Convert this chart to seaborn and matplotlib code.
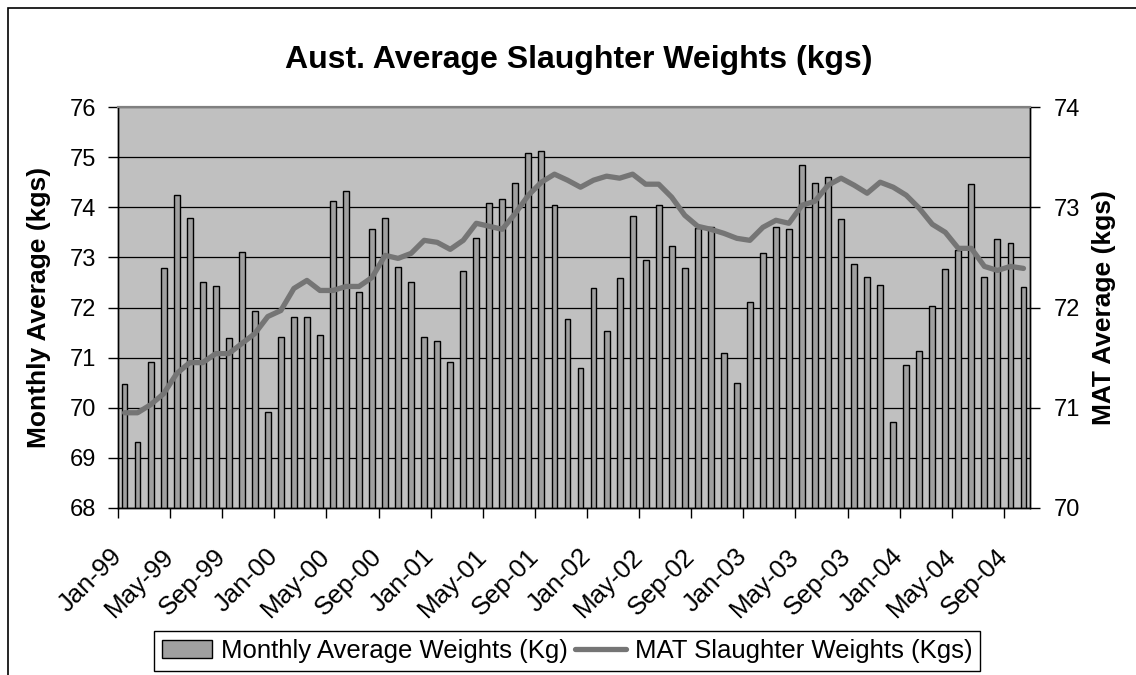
import matplotlib
matplotlib.use('Agg')
import matplotlib.pyplot as plt
import matplotlib.transforms as mtransforms
from matplotlib.patches import Rectangle
import seaborn as sns
import pandas as pd

# meses Jan-99 .. Oct-04
meses = list(pd.date_range('1999-01-01', periods=70, freq='MS').strftime('%b-%y'))

# media mensal (kg) - eixo esquerdo
media_mensal = [
    70.47, 69.31, 70.91, 72.78, 74.25, 73.78, 72.50, 72.42, 71.39, 73.10,
    71.94, 69.91, 71.42, 71.82, 71.82, 71.46, 74.13, 74.33, 72.30, 73.57,
    73.78, 72.81, 72.50, 71.42, 71.34, 70.91, 72.73, 73.38, 74.09, 74.17,
    74.49, 75.08, 75.12, 74.05, 71.78, 70.79, 72.38, 71.54, 72.58, 73.82,
    72.94, 74.05, 73.22, 72.78, 73.58, 73.61, 71.10, 70.50, 72.10, 73.09,
    73.61, 73.56, 74.84, 74.49, 74.61, 73.76, 72.86, 72.61, 72.45, 69.71,
    70.86, 71.13, 72.02, 72.77, 73.15, 74.46, 72.61, 73.36, 73.29, 72.41,
]

# MAT (kg) - eixo direito
media_mat = [
    70.95, 70.95, 71.03, 71.14, 71.34, 71.45, 71.45, 71.54, 71.54, 71.64,
    71.74, 71.91, 71.97, 72.19, 72.27, 72.17, 72.17, 72.21, 72.21, 72.30,
    72.52, 72.49, 72.54, 72.67, 72.65, 72.58, 72.67, 72.84, 72.81, 72.78,
    72.94, 73.12, 73.25, 73.33, 73.27, 73.20, 73.27, 73.31, 73.29, 73.33,
    73.23, 73.23, 73.10, 72.92, 72.81, 72.78, 72.74, 72.69, 72.67, 72.80,
    72.87, 72.84, 73.02, 73.06, 73.22, 73.29, 73.22, 73.14, 73.25, 73.20,
    73.12, 72.99, 72.83, 72.75, 72.59, 72.59, 72.41, 72.37, 72.41, 72.39,
]

sns.set_style('white')
plt.rcParams['font.family'] = ['Liberation Sans', 'DejaVu Sans']
plt.rcParams['text.color'] = 'black'
plt.rcParams['axes.labelcolor'] = 'black'
plt.rcParams['xtick.color'] = 'black'
plt.rcParams['ytick.color'] = 'black'

df = pd.DataFrame({'mes': meses, 'media': media_mensal, 'mat': media_mat})

fig = plt.figure(figsize=(11.36, 6.75), dpi=100)
ax = fig.add_axes([118/1136, 1 - 508/675, (1030 - 118)/1136, (508 - 107)/675])
ax.set_facecolor('#c0c0c0')

sns.barplot(data=df, x='mes', y='media', order=meses, color='#a0a0a0', saturation=1,
            width=0.45, edgecolor='black', linewidth=1.0, ax=ax,
            label='Monthly Average Weights (Kg)')
if ax.get_legend() is not None:
    ax.get_legend().remove()

ax.set_ylim(68, 76)
ax.set_xlim(-0.5, len(meses) - 0.5)
ax.set_yticks(range(68, 77))
ax.yaxis.grid(True, color='black', linewidth=0.9)
ax.set_axisbelow(True)

ax2 = ax.twinx()
sns.lineplot(data=df, x='mes', y='mat', sort=False, color='#757575', linewidth=3.8,
             ax=ax2, label='MAT Slaughter Weights (Kgs)', legend=False)
ax2.set_ylim(70, 74)
ax2.set_yticks(range(70, 75))
ax2.set_xlim(-0.5, len(meses) - 0.5)

# ticks do eixo x a cada 4 meses, entre categorias
ax.set_xticks([i - 0.5 for i in range(0, len(meses), 4)])
ax.set_xticklabels(meses[::4], rotation=45, ha='right', va='center',
                   rotation_mode='anchor', fontsize=18.5)
desloca = mtransforms.ScaledTranslation(-11/100, 0, fig.dpi_scale_trans)
for lbl in ax.get_xticklabels():
    lbl.set_transform(lbl.get_transform() + desloca)
ax.tick_params(axis='x', direction='out', length=7, width=1, color='black', bottom=True, pad=25)
ax.tick_params(axis='y', direction='out', length=7, width=1, color='black', left=True,
               labelsize=17, pad=9)
ax2.tick_params(axis='y', direction='out', length=7, width=1, color='black', right=True,
                labelsize=17, pad=10)

for a in (ax, ax2):
    for s in a.spines.values():
        s.set_color('black')
        s.set_linewidth(1.0)
    a.spines['top'].set_color('#808080')
    a.spines['top'].set_linewidth(1.5)

ax.set_xlabel('')
ax.set_ylabel('Monthly Average (kgs)', fontsize=19, fontweight='bold', labelpad=13)
ax2.set_ylabel('MAT Average (kgs)', fontsize=19, fontweight='bold', labelpad=9)

fig.text(579/1136, 1 - 60/675, 'Aust. Average Slaughter Weights (kgs)', ha='center',
         va='center', fontsize=23, fontweight='bold')

h1, l1 = ax.get_legend_handles_labels()
h2, l2 = ax2.get_legend_handles_labels()
leg = fig.legend(h1 + h2, l1 + l2, loc='center', bbox_to_anchor=(567/1136, 1 - 651/675),
                 ncol=2, fontsize=18.5, frameon=True, fancybox=False, edgecolor='black',
                 framealpha=1, handlelength=1.95, columnspacing=0.3, handletextpad=0.35,
                 borderpad=0.3, borderaxespad=0)
leg.get_frame().set_linewidth(1.0)

# borda externa do grafico
fig.patches.append(Rectangle((8/1136, -0.1), 1.2, 1.1 - 8/675, transform=fig.transFigure,
                             fill=False, edgecolor='black', linewidth=1.2))

plt.savefig('out.png', dpi=100)
